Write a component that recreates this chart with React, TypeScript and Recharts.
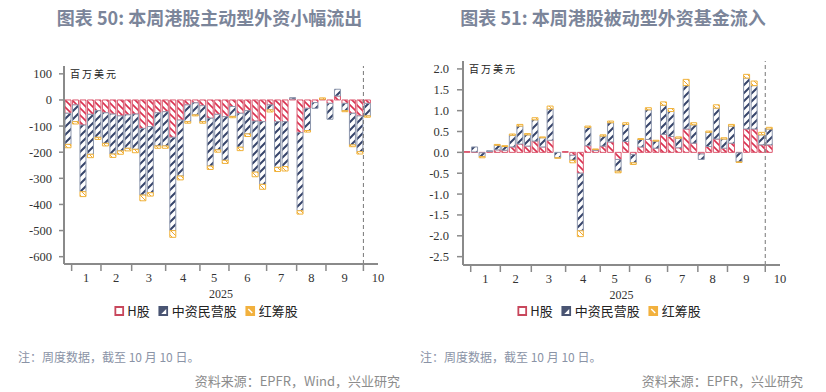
import React from 'react';
import { BarChart, Bar, XAxis, YAxis, ReferenceLine } from 'recharts';

// Weekly observations (Fridays), 2025-01-03 … 2025-10-10
const weeks = [
  '01-03', '01-10', '01-17', '01-24', '01-31',
  '02-07', '02-14', '02-21', '02-28',
  '03-07', '03-14', '03-21', '03-28',
  '04-04', '04-11', '04-18', '04-25',
  '05-02', '05-09', '05-16', '05-23', '05-30',
  '06-06', '06-13', '06-20', '06-27',
  '07-04', '07-11', '07-18', '07-25',
  '08-01', '08-08', '08-15', '08-22', '08-29',
  '09-05', '09-12', '09-19', '09-26',
  '10-03', '10-10',
];

const seriesNames = ['H股', '中资民营股', '红筹股'];

// Chart 50: active foreign funds (USD mn)
const activeH = [-51, -19, -96, -55, -41, -49, -54, -61, -57, -54, -109, -102, -49, -45, -143, -77, -19, -11, -22, -70, -55, -64, -25, -51, -41, -81, -83, -19, -83, -83, 4, -125, -32, -10, 3, -13, 15, -13, -51, -61, -13];
const activeZ = [-119, -64, -255, -153, -102, -117, -153, -134, -128, -135, -255, -253, -127, -131, -357, -214, -64, -46, -61, -183, -136, -167, -38, -130, -89, -195, -240, -19, -175, -172, 5, -299, -85, -22, 0, -61, 26, -28, -121, -137, -48];
const activeR = [-13, -9, -19, -13, -8, -10, -13, -13, -10, -13, -22, -13, -9, -9, -26, -15, -6, -4, -6, -13, -9, -12, -5, -13, -10, -18, -19, -8, -16, -17, 0, -13, -6, 0, 5, 0, 0, -4, -7, -9, -5];

// Chart 51: passive foreign funds
const passiveH = [0.02, 0.01, -0.01, 0.02, 0.06, 0.05, 0.13, 0.2, 0.15, 0.27, 0.13, 0.29, 0, 0.02, -0.07, -0.5, 0.16, 0.05, 0.15, 0.25, -0.17, 0.26, -0.05, 0.13, 0.31, 0.1, 0.43, 0.38, 0.11, 0.56, 0.22, -0.04, 0.14, 0.32, 0.1, 0.22, -0.01, 0.56, 0.56, 0.18, 0.18];
const passiveZ = [0, 0.12, -0.09, 0.02, 0.11, 0.09, 0.28, 0.43, 0.27, 0.51, 0.22, 0.75, -0.13, 0, -0.12, -1.38, 0.44, 0.02, 0.24, 0.46, -0.28, 0.41, -0.2, 0.18, 0.71, 0.17, 0.7, 0.6, 0.23, 1.04, 0.44, -0.13, 0.34, 0.74, 0.22, 0.41, -0.22, 1.22, 1.04, 0.24, 0.38];
const passiveR = [0, 0, -0.03, 0, 0.02, 0.02, 0.03, 0.04, 0.03, 0.05, 0.02, 0.07, -0.01, 0, -0.06, -0.14, 0.03, 0.01, 0.03, 0.04, -0.04, 0.04, -0.04, 0.02, 0.05, 0.02, 0.08, 0.07, 0.03, 0.15, 0.05, 0, 0.03, 0.08, 0.03, 0.04, -0.01, 0.09, 0.11, 0.06, 0.04];

// Axis ticks
const monthLabels = ['1', '2', '3', '4', '5', '6', '7', '8', '9', '10'];
const monthLabelPos = [2.45, 6.45, 10.85, 15.4, 19.55, 24.0, 28.5, 32.55, 37.0, 41.45];
const monthBoundaryPos = [0.52, 4.44, 8.54, 13.08, 17.66, 21.54, 26.57, 30.58, 34.5, 39.5];
const activeTicks = [-600, -500, -400, -300, -200, -100, 0, 100];
const passiveTicks = [-2.5, -2.0, -1.5, -1.0, -0.5, 0, 0.5, 1.0, 1.5, 2.0];
const cutoffPos = 39.5;

const buildRows = (h: number[], z: number[], r: number[]) =>
  weeks.map((w, i) => ({ idx: i, week: w, h: h[i], z: z[i], r: r[i] }));

const activeData = buildRows(activeH, activeZ, activeR);
const passiveData = buildRows(passiveH, passiveZ, passiveR);

const COLORS = {
  hStroke: '#dc5a70',
  hStripe: '#d9304f',
  zStroke: '#8d97ad',
  zStripe: '#36446a',
  rStroke: '#f0b23a',
  rStripe: '#f0a830',
  axis: '#8a8a8a',
  tickText: '#333333',
};

const SERIF = '"Liberation Serif", "DejaVu Serif", serif';
const CJK = '"Noto Sans CJK SC", "Noto Sans", sans-serif';

const Patterns = () => (
  <svg width={0} height={0} style={{ position: 'absolute' }}>
    <defs>
      <pattern id="patH" patternUnits="userSpaceOnUse" width={7} height={7}>
        <rect width={7} height={7} fill="#ffffff" />
        <path d="M-2,5 L2,9 M0,0 L7,7 M5,-2 L9,2" stroke={COLORS.hStripe} strokeWidth={1.6} />
      </pattern>
      <pattern id="patZ" patternUnits="userSpaceOnUse" width={8} height={8}>
        <rect width={8} height={8} fill="#ffffff" />
        <path d="M-2,2 L2,-2 M0,8 L8,0 M6,10 L10,6" stroke={COLORS.zStripe} strokeWidth={2} />
      </pattern>
      <pattern id="patR" patternUnits="userSpaceOnUse" width={5} height={5}>
        <rect width={5} height={5} fill="#ffffff" />
        <path d="M0,0 L5,5" stroke={COLORS.rStripe} strokeWidth={1} />
      </pattern>
    </defs>
  </svg>
);

const makeXTick = () => (props: any) => {
  const { x, y, payload } = props;
  const v = payload.value;
  const li = monthLabelPos.indexOf(v);
  if (li >= 0) {
    return (
      <text x={x} y={y + 18} textAnchor="middle" fontFamily={SERIF} fontSize={12.5} fill={COLORS.tickText}>
        {monthLabels[li]}
      </text>
    );
  }
  return <line x1={x} x2={x} y1={y + 1} y2={y + 7} stroke={COLORS.axis} strokeWidth={1.5} />;
};

const YearLabel = (props: any) => {
  const vb = props.viewBox || {};
  return (
    <text x={vb.x + vb.width / 2} y={vb.y + 34} textAnchor="middle" fontFamily={SERIF} fontSize={12} fill={COLORS.tickText}>
      2025
    </text>
  );
};

const UnitLabel = (props: any) => {
  const vb = props.viewBox || {};
  return (
    <text x={vb.x + vb.width + 6} y={vb.y + 12} fontFamily={CJK} fontSize={10} letterSpacing={2} fill="#222">
      百万美元
    </text>
  );
};

type PanelProps = {
  data: any[];
  yDomain: [number, number];
  yTicks: number[];
  yFmt: (v: number) => string;
  yWidth: number;
  margin: { top: number; right: number; bottom: number; left: number };
  tickSize: number;
  tickMargin: number;
};

const Panel = ({ data, yDomain, yTicks, yFmt, yWidth, margin, tickSize, tickMargin }: PanelProps) => {
  const xTicks = [...monthBoundaryPos, ...monthLabelPos].sort((a, b) => a - b);
  return (
    <BarChart width={413} height={330} data={data} margin={margin} stackOffset="sign">
      <XAxis
        dataKey="idx"
        type="number"
        domain={[-0.5, 41.45]}
        allowDataOverflow
        ticks={xTicks}
        interval={0}
        tickLine={false}
        tickSize={0}
        tickMargin={0}
        tick={makeXTick()}
        height={40}
        axisLine={{ stroke: COLORS.axis, strokeWidth: 2 }}
        label={{ content: YearLabel }}
      />
      <YAxis
        type="number"
        domain={yDomain}
        allowDataOverflow
        ticks={yTicks}
        interval={0}
        width={yWidth}
        tickFormatter={yFmt}
        tickSize={tickSize}
        tickMargin={tickMargin}
        tick={{ fontFamily: SERIF, fontSize: 12.5, fill: COLORS.tickText }}
        tickLine={{ stroke: COLORS.axis, strokeWidth: 1.5 }}
        axisLine={{ stroke: COLORS.axis, strokeWidth: 2 }}
        label={{ content: UnitLabel }}
      />
      <Bar dataKey="h" name={seriesNames[0]} stackId="s" barSize={6} fill="url(#patH)" stroke={COLORS.hStroke} strokeWidth={1} isAnimationActive={false} />
      <Bar dataKey="z" name={seriesNames[1]} stackId="s" barSize={6} fill="url(#patZ)" stroke={COLORS.zStroke} strokeWidth={1} isAnimationActive={false} />
      <Bar dataKey="r" name={seriesNames[2]} stackId="s" barSize={6} fill="url(#patR)" stroke={COLORS.rStroke} strokeWidth={1} isAnimationActive={false} />
      <ReferenceLine x={cutoffPos} stroke="#777" strokeDasharray="4 3" strokeWidth={1} />
    </BarChart>
  );
};

const LegendIcon = ({ i }: { i: number }) => {
  if (i === 0)
    return (
      <svg width={10} height={10}>
        <rect x={1} y={1} width={8} height={8} fill="#fff" stroke="#c8475c" strokeWidth={2} />
      </svg>
    );
  if (i === 1)
    return (
      <svg width={10} height={10}>
        <rect x={0} y={0} width={10} height={10} fill="#4a5573" />
        <path d="M3,8 L8,3 L8,8 Z" fill="#fff" />
      </svg>
    );
  return (
    <svg width={10} height={10}>
      <rect x={0} y={0} width={10} height={10} fill="#f2b13e" />
      <path d="M3,3 L7,7" stroke="#fff" strokeWidth={1.5} />
    </svg>
  );
};

const LegendRow = ({ center }: { center: number }) => (
  <div
    style={{
      position: 'absolute',
      left: center,
      top: 304,
      transform: 'translateX(-50%)',
      display: 'flex',
      alignItems: 'center',
      whiteSpace: 'nowrap',
      fontFamily: CJK,
      fontSize: 13,
      lineHeight: '14px',
      color: '#222',
    }}
  >
    {seriesNames.map((n, i) => (
      <div key={n} style={{ display: 'flex', alignItems: 'center', marginRight: i < 2 ? 9 : 0 }}>
        <LegendIcon i={i} />
        <span style={{ marginLeft: 3 }}>{n}</span>
      </div>
    ))}
  </div>
);

const absText = (text: string, style: React.CSSProperties) => (
  <div style={{ position: 'absolute', whiteSpace: 'nowrap', lineHeight: 1, ...style }}>{text}</div>
);

export default function App() {
  return (
    <div style={{ position: 'absolute', left: 0, top: 0, width: 826, height: 392, background: '#fff', overflow: 'hidden' }}>
      <Patterns />
      {absText('图表 50: 本周港股主动型外资小幅流出', {
        left: 209.5, top: 8, transform: 'translateX(-50%)', fontFamily: CJK, fontSize: 18, fontWeight: 700, color: '#7b859a',
      })}
      {absText('图表 51: 本周港股被动型外资基金流入', {
        left: 613, top: 8, transform: 'translateX(-50%)', fontFamily: CJK, fontSize: 18, fontWeight: 700, color: '#7b859a',
      })}
      <div style={{ position: 'absolute', left: 0, top: 0 }}>
        <Panel
          data={activeData}
          yDomain={[-628, 130]}
          yTicks={activeTicks}
          yFmt={(v) => String(v)}
          yWidth={64}
          margin={{ top: 66, right: 35, bottom: 26, left: 0 }}
          tickSize={5}
          tickMargin={7}
        />
      </div>
      <div style={{ position: 'absolute', left: 413, top: 0 }}>
        <Panel
          data={passiveData}
          yDomain={[-2.7, 2.19]}
          yTicks={passiveTicks}
          yFmt={(v) => v.toFixed(1)}
          yWidth={50}
          margin={{ top: 61, right: 46, bottom: 25, left: 0 }}
          tickSize={6}
          tickMargin={8}
        />
      </div>
      <LegendRow center={206} />
      <LegendRow center={609} />
      {absText('注：周度数据，截至 10 月 10 日。', { left: 18, top: 351, fontFamily: CJK, fontSize: 12, color: '#8a93a6' })}
      {absText('注：周度数据，截至 10 月 10 日。', { left: 420, top: 351, fontFamily: CJK, fontSize: 12, color: '#8a93a6' })}
      {absText('资料来源：EPFR，Wind，兴业研究', { right: 826 - 400, top: 374, fontFamily: CJK, fontSize: 13, color: '#8c8c8c' })}
      {absText('资料来源：EPFR，兴业研究', { right: 826 - 803, top: 374, fontFamily: CJK, fontSize: 13, color: '#8c8c8c' })}
    </div>
  );
}
